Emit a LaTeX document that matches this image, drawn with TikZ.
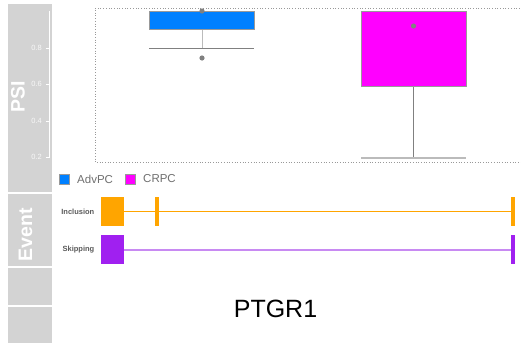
\documentclass[tikz,border=0pt]{standalone}
\usepackage{fontspec}
\setmainfont{Liberation Sans}
\definecolor{strip}{HTML}{D3D3D3}
\definecolor{advblue}{HTML}{0080FF}
\definecolor{crmag}{HTML}{FF00FF}
\definecolor{incor}{HTML}{FFA500}
\definecolor{skpur}{HTML}{A020F0}
\definecolor{skline}{HTML}{C88AF2}
\definecolor{boxline}{HTML}{999999}
\definecolor{whisk}{HTML}{808080}
\definecolor{lwhisk}{HTML}{BBBBBB}
\definecolor{txtgray}{HTML}{707070}
\definecolor{labgray}{HTML}{5A5A5A}
\definecolor{ticktxt}{HTML}{F7F7F7}
\begin{document}
\begin{tikzpicture}[x=1pt,y=-1pt,
  stripbox/.style={fill=strip},
  ticklab/.style={anchor=east, text=ticktxt, inner sep=0pt, font=\fontsize{7.5}{9}\selectfont},
  striplab/.style={rotate=90, text=white, inner sep=0pt, font=\fontsize{19.5}{22}\selectfont\bfseries},
  psibox/.style={draw=boxline, line width=0.8pt},
  dot/.style={fill=whisk},
  legsq/.style={draw=boxline, line width=0.6pt, minimum size=10pt, inner sep=0pt},
  legtxt/.style={anchor=west, text=txtgray, inner sep=0pt, font=\fontsize{11.5}{13}\selectfont},
  evlab/.style={anchor=east, text=labgray, inner sep=0pt, font=\fontsize{7.5}{9}\selectfont\bfseries},
  exon/.style={minimum width=23pt, minimum height=29pt, inner sep=0pt},
  thinexon/.style={minimum width=4pt, minimum height=29pt, inner sep=0pt}
]
\useasboundingbox (0,0) rectangle (521,343);
\fill[white] (0,0) rectangle (521,343);
% strip panels
\fill[stripbox] (8,4) rectangle (52,192);
\fill[stripbox] (8,194) rectangle (52,266);
\fill[stripbox] (8,268) rectangle (52,304.5);
\fill[stripbox] (8,306.5) rectangle (52,343);
% axis
\draw[white, line width=0.8pt] (49,11) -- (49,158);
\foreach \yy/\lab in {48/0.8, 84/0.6, 121/0.4, 157/0.2} {
  \draw[white, line width=0.8pt] (45.5,\yy) -- (49,\yy);
  \node[ticklab] at (42,\yy) {\lab};
}
\node[striplab] (psi) at (18,97) {PSI};
% frame
\draw[boxline, dotted, line width=0.7pt] (525,8) -| (95,162) -- (525,162);
% AdvPC
\draw[lwhisk, line width=0.8pt] (202,29) -- (202,48);
\draw[whisk, line width=0.8pt] (149,48) -- (254,48);
\filldraw[psibox, fill=advblue] (149,11) rectangle (254,29);
\fill[dot] (202,11) circle (2.6);
\fill[dot] (202,58) circle (2.6);
% CRPC
\draw[whisk, line width=0.8pt] (413.5,86) -- (413.5,158);
\draw[lwhisk, line width=1.2pt] (361,158) -- (466,158);
\filldraw[psibox, fill=crmag] (361,11) rectangle (466,86);
\fill[dot] (413.5,26) circle (2.6);
% legend
\node[legsq, fill=advblue] (la) at (64,179) {};
\node[legtxt] (lat) at (77,179) {AdvPC};
\node[legsq, fill=crmag] (lc) at (130,179) {};
\node[legtxt] (lct) at (143,179) {CRPC};
% event panel
\node[striplab] (ev) at (25.5,234.5) {Event};
\node[evlab] (inc) at (94.5,212) {Inclusion};
\node[evlab] (skp) at (94.5,249.5) {Skipping};
\node[exon, fill=incor] (i1) at (112.5,211.5) {};
\node[thinexon, fill=incor] (i2) at (157,211.5) {};
\node[thinexon, fill=incor] (i3) at (513,211.5) {};
\fill[incor] ([yshift=-0.6pt]i1.east) rectangle ([yshift=0.6pt]i2.west);
\fill[incor] ([yshift=-0.6pt]i2.east) rectangle ([yshift=0.6pt]i3.west);
\node[exon, fill=skpur] (s1) at (112.5,249.5) {};
\node[thinexon, fill=skpur] (s3) at (513,249.5) {};
\fill[skline] ([yshift=-1pt]s1.east) rectangle ([yshift=1pt]s3.west);
\node[font=\fontsize{25}{28}\selectfont, inner sep=0pt] (gene) at (275.5,309) {PTGR1};
\end{tikzpicture}
\end{document}
